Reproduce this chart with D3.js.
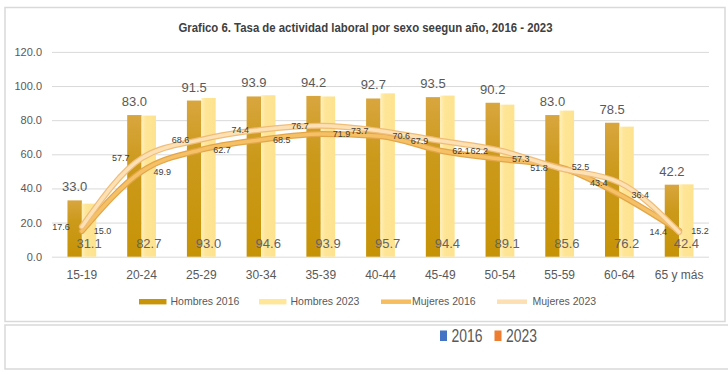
<!DOCTYPE html>
<html>
<head>
<meta charset="utf-8">
<script src="https://cdn.jsdelivr.net/npm/d3@7"></script>
<style>
  body { margin: 0; background: #fff; }
  svg { display: block; font-family: "Liberation Sans", Arial, sans-serif; }
</style>
</head>
<body>
<div class="chart"></div>
<script>
const categories = ['15-19', '20-24', '25-29', '30-34', '35-39', '40-44', '45-49', '50-54', '55-59', '60-64', '65 y más'];
const hombres2016 = [33.0, 83.0, 91.5, 93.9, 94.2, 92.7, 93.5, 90.2, 83.0, 78.5, 42.2];
const hombres2023 = [31.1, 82.7, 93.0, 94.6, 93.9, 95.7, 94.4, 89.1, 85.6, 76.2, 42.4];
const mujeres2016 = [15.0, 49.9, 62.7, 68.5, 71.9, 70.6, 62.1, 57.3, 52.5, 36.4, 15.2];
const mujeres2023 = [17.6, 57.7, 68.6, 74.4, 76.7, 73.7, 67.9, 62.2, 51.8, 43.4, 14.4];
const yTicks = [0, 20, 40, 60, 80, 100, 120];
const years = ['2016', '2023'];

function drawChart() {
  const w = 728;
  const h = 374;
  const plot = { left: 52, right: 709, top: 51.9, bottom: 256.7 };

  const svg = d3.select('.chart')
    .append('svg')
    .attr('width', w)
    .attr('height', h);

  const defs = svg.append('defs');
  const g1 = defs.append('linearGradient').attr('id', 'dark').attr('x1', 0).attr('x2', 0).attr('y1', 0).attr('y2', 1);
  g1.append('stop').attr('offset', '0%').attr('stop-color', '#d8a63e');
  g1.append('stop').attr('offset', '35%').attr('stop-color', '#cc9a1c');
  g1.append('stop').attr('offset', '100%').attr('stop-color', '#c69306');
  const g2 = defs.append('linearGradient').attr('id', 'light').attr('x1', 0).attr('x2', 1).attr('y1', 0).attr('y2', 0);
  g2.append('stop').attr('offset', '0%').attr('stop-color', '#fff0b8');
  g2.append('stop').attr('offset', '30%').attr('stop-color', '#fee597');
  g2.append('stop').attr('offset', '100%').attr('stop-color', '#fde38f');

  // frames
  svg.append('rect')
    .attr('x', 5).attr('y', 7.5).attr('width', 720).attr('height', 314)
    .attr('fill', '#fff').attr('stroke', '#d9d9d9').attr('stroke-width', 1.5);
  svg.append('path')
    .attr('d', 'M728,325H5V369H728')
    .attr('fill', 'none').attr('stroke', '#d9d9d9').attr('stroke-width', 1.5);

  svg.append('text')
    .attr('x', 365.5).attr('y', 32)
    .attr('text-anchor', 'middle')
    .attr('font-size', 12).attr('font-weight', 'bold')
    .attr('fill', '#404040')
    .attr('textLength', 374).attr('lengthAdjust', 'spacingAndGlyphs')
    .text('Grafico 6. Tasa de actividad laboral por sexo seegun año, 2016 - 2023');

  const x = d3.scaleBand()
    .domain(categories)
    .range([plot.left, plot.right]);
  const xs = d3.scaleBand()
    .domain(['h16', 'h23'])
    .range([-14.4, 14.4]);
  const y = d3.scaleLinear()
    .domain([0, 120])
    .range([plot.bottom, plot.top]);
  const cx = c => x(c) + x.bandwidth() / 2;

  // grid + y labels
  const yAxis = svg.append('g')
    .attr('transform', `translate(${plot.left},0)`)
    .call(d3.axisLeft(y).tickValues(yTicks).tickFormat(d3.format('.1f'))
      .tickSize(-(plot.right - plot.left)).tickPadding(10));
  yAxis.select('.domain').remove();
  yAxis.selectAll('line').attr('stroke', '#d9d9d9');
  yAxis.selectAll('text').attr('fill', '#595959').attr('font-size', 11)
    .attr('font-family', '"Liberation Sans", Arial, sans-serif');

  const xAxis = svg.append('g')
    .attr('transform', `translate(0,${plot.bottom})`)
    .call(d3.axisBottom(x).tickSize(0).tickPadding(14));
  xAxis.select('.domain').remove();
  xAxis.selectAll('text').attr('fill', '#595959').attr('font-size', 12)
    .attr('font-family', '"Liberation Sans", Arial, sans-serif');

  // bars
  const bars = svg.append('g');
  bars.selectAll('rect.h16')
    .data(categories)
    .enter()
    .append('rect')
    .attr('class', 'h16')
    .attr('x', (d, i) => cx(d) + xs('h16'))
    .attr('y', (d, i) => y(hombres2016[i]))
    .attr('width', xs.bandwidth())
    .attr('height', (d, i) => y(0) - y(hombres2016[i]))
    .attr('fill', 'url(#dark)');
  bars.selectAll('rect.h23')
    .data(categories)
    .enter()
    .append('rect')
    .attr('class', 'h23')
    .attr('x', (d, i) => cx(d) + xs('h23'))
    .attr('y', (d, i) => y(hombres2023[i]))
    .attr('width', xs.bandwidth())
    .attr('height', (d, i) => y(0) - y(hombres2023[i]))
    .attr('fill', 'url(#light)');

  // lines
  const line = d3.line()
    .x((d, i) => cx(categories[i]))
    .y(d => y(d))
    .curve(d3.curveMonotoneX);
  const lines = [
    { data: mujeres2016, edge: '#e2a648', color: '#f5c066' },
    { data: mujeres2023, edge: '#efbd78', color: '#fde0b4' }
  ];
  lines.forEach(s => {
    svg.append('path').attr('d', line(s.data)).attr('fill', 'none')
      .attr('stroke', s.edge).attr('stroke-width', 6).attr('stroke-linejoin', 'round').attr('stroke-linecap', 'round');
    svg.append('path').attr('d', line(s.data)).attr('fill', 'none')
      .attr('stroke', s.color).attr('stroke-width', 3.5).attr('stroke-linejoin', 'round').attr('stroke-linecap', 'round');
  });

  // labels
  const labels = svg.append('g').attr('font-family', '"Liberation Sans", Arial, sans-serif');
  labels.selectAll('text.t16')
    .data(categories)
    .enter()
    .append('text')
    .attr('x', d => cx(d) + xs('h16') + xs.bandwidth() / 2)
    .attr('y', (d, i) => y(hombres2016[i]) - 9)
    .attr('text-anchor', 'middle').attr('font-size', 13).attr('fill', '#595959')
    .text((d, i) => hombres2016[i].toFixed(1));
  labels.selectAll('text.t23')
    .data(categories)
    .enter()
    .append('text')
    .attr('x', d => cx(d) + xs('h23') + xs.bandwidth() / 2)
    .attr('y', 247.5)
    .attr('text-anchor', 'middle').attr('font-size', 13).attr('fill', '#636363')
    .text((d, i) => hombres2023[i].toFixed(1));
  labels.selectAll('text.m16')
    .data(categories)
    .enter()
    .append('text')
    .attr('x', d => cx(d) + 12)
    .attr('y', (d, i) => y(mujeres2016[i]))
    .attr('dy', '0.35em').attr('font-size', 9).attr('fill', '#404040')
    .text((d, i) => mujeres2016[i].toFixed(1));
  labels.selectAll('text.m23')
    .data(categories)
    .enter()
    .append('text')
    .attr('x', d => cx(d) - 12)
    .attr('y', (d, i) => y(mujeres2023[i]))
    .attr('dy', '0.35em').attr('text-anchor', 'end').attr('font-size', 9).attr('fill', '#404040')
    .text((d, i) => mujeres2023[i].toFixed(1));

  // legend
  const legend = svg.append('g').attr('font-size', 10.5).attr('fill', '#595959');
  const items = [
    { name: 'Hombres 2016', x: 139, type: 'bar', color: '#c99508' },
    { name: 'Hombres 2023', x: 259, type: 'bar', color: '#ffe699' },
    { name: 'Mujeres 2016', x: 381, type: 'line', color: '#f5bd60' },
    { name: 'Mujeres 2023', x: 497, type: 'line', color: '#fddfb4' }
  ];
  const ly = 301.7;
  items.forEach(it => {
    if (it.type === 'bar') {
      legend.append('rect').attr('x', it.x).attr('y', ly - 2.7).attr('width', 27.5).attr('height', 5.4).attr('fill', it.color);
      legend.append('text').attr('x', it.x + 31.5).attr('y', ly).attr('dy', '0.35em').text(it.name);
    } else {
      legend.append('line').attr('x1', it.x).attr('x2', it.x + 30).attr('y1', ly).attr('y2', ly)
        .attr('stroke', it.color).attr('stroke-width', 4.5);
      legend.append('text').attr('x', it.x + (it.name === 'Mujeres 2016' ? 31 : 35.5)).attr('y', ly).attr('dy', '0.35em').text(it.name);
    }
  });

  const yl = svg.append('g');
  const ycol = ['#4472c4', '#ed7d31'];
  const yx = [440, 494.5];
  years.forEach((yr, i) => {
    yl.append('rect').attr('x', yx[i]).attr('y', 330.5).attr('width', 7).attr('height', 10.5).attr('fill', ycol[i]);
    yl.append('text').attr('x', yx[i] + 11.5).attr('y', 341.5)
      .attr('font-size', 18).attr('fill', '#595959')
      .attr('textLength', 31).attr('lengthAdjust', 'spacingAndGlyphs')
      .text(yr);
  });
}

drawChart();
</script>
</body>
</html>
